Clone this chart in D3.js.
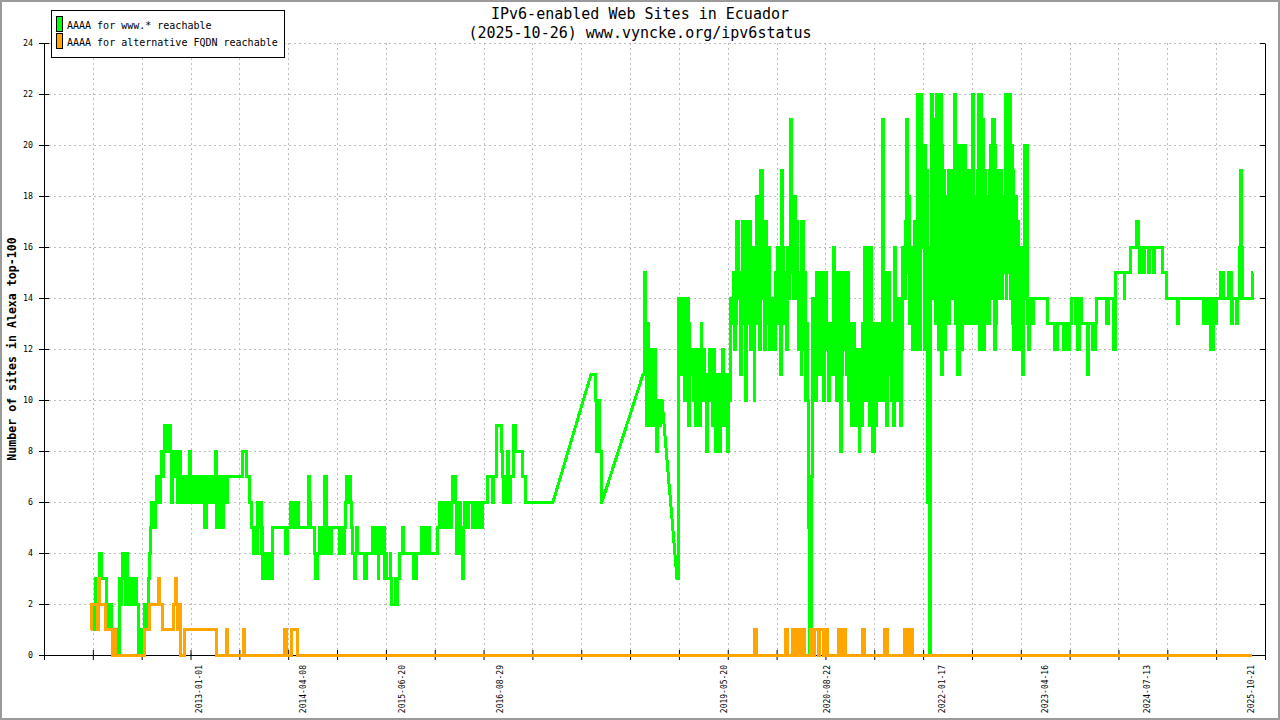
<!DOCTYPE html>
<html>
<head>
<meta charset="utf-8">
<title>IPv6-enabled Web Sites in Ecuador</title>
<script src="https://cdn.jsdelivr.net/npm/d3@7/dist/d3.min.js"></script>
<style>
    body { margin: 0; background: #fff; }
    #chart { width: 1280px; height: 720px; }
    .mono { font-family: "DejaVu Sans Mono", monospace; }
</style>
</head>
<body>
<div id="chart"></div>
<script>

// ---- data (x = decimal year, y = number of sites) ----

const TITLE_LINES = ["IPv6-enabled Web Sites in Ecuador", "(2025-10-26) www.vyncke.org/ipv6status"];
const Y_TITLE = "Number of sites in Alexa top-100";
const LEGEND_LABELS = ["AAAA for www.* reachable", "AAAA for alternative FQDN reachable"];

const Y_TICKS = [0, 2, 4, 6, 8, 10, 12, 14, 16, 18, 20, 22, 24];
const X_LABEL_DATES = ["2013-01-01", "2014-04-08", "2015-06-20", "2016-08-29", "2019-05-20",
                       "2020-08-22", "2022-01-17", "2023-04-16", "2024-07-13", "2025-10-21"];

// www.* series, split where records are missing (gnuplot joins those with a straight line)
const wwwRun1 = [
    [2011.723,1],[2011.735,2],[2011.759,1],[2011.771,2],[2011.783,3],[2011.832,4],[2011.856,3],[2011.917,2],
    [2011.929,1],[2011.941,2],[2011.954,1],[2011.966,2],[2011.978,1],[2011.990,0],[2012.014,1],[2012.026,0],
    [2012.051,1],[2012.063,0],[2012.075,3],[2012.087,2],[2012.099,3],[2012.111,4],[2012.136,3],[2012.148,2],
    [2012.160,4],[2012.172,3],[2012.184,2],[2012.197,3],[2012.209,2],[2012.221,3],[2012.233,2],[2012.245,3],
    [2012.258,2],[2012.270,3],[2012.282,2],[2012.306,0],[2012.331,1],[2012.343,0],[2012.355,1],[2012.380,2],
    [2012.404,1],[2012.428,3],[2012.440,4],[2012.453,5],[2012.465,6],[2012.477,5],[2012.489,6],[2012.501,5],
    [2012.514,6],[2012.526,7],[2012.538,6],[2012.550,7],[2012.562,6],[2012.574,7],[2012.587,8],[2012.599,7],
    [2012.611,8],[2012.623,9],[2012.635,8],[2012.648,9],[2012.660,8],[2012.672,9],[2012.696,8],[2012.708,6],
    [2012.720,8],[2012.733,7],[2012.745,8],[2012.757,7],[2012.769,8],[2012.781,6],[2012.794,7],[2012.806,8],
    [2012.818,7],[2012.842,6],[2012.854,7],[2012.867,6],[2012.879,7],[2012.891,6],[2012.903,7],[2012.915,6],
    [2012.927,8],[2012.940,7],[2012.952,6],[2012.964,7],[2012.976,6],[2012.988,7],[2013.013,6],[2013.025,7],
    [2013.049,6],[2013.061,7],[2013.086,6],[2013.098,7],[2013.110,5],[2013.134,7],[2013.146,6],[2013.159,7],
    [2013.171,6],[2013.183,7],[2013.207,6],[2013.219,7],[2013.244,8],[2013.256,5],[2013.280,7],[2013.292,6],
    [2013.305,7],[2013.317,5],[2013.341,7],[2013.353,6],[2013.366,7],[2013.378,6],[2013.390,7],[2013.572,8],
    [2013.621,7],[2013.658,6],[2013.682,5],[2013.695,4],[2013.707,5],[2013.719,4],[2013.731,5],[2013.743,4],
    [2013.755,6],[2013.768,5],[2013.780,6],[2013.792,4],[2013.804,5],[2013.816,3],[2013.841,4],[2013.853,3],
    [2013.865,4],[2013.877,3],[2013.889,4],[2013.902,3],[2013.914,4],[2013.926,3],[2013.938,5],[2014.096,4],
    [2014.120,5],[2014.145,6],[2014.157,5],[2014.169,6],[2014.181,5],[2014.193,6],[2014.206,5],[2014.218,6],
    [2014.230,5],[2014.242,6],[2014.254,5],[2014.364,7],[2014.388,6],[2014.400,5],[2014.449,4],[2014.461,3],
    [2014.485,4],[2014.510,5],[2014.546,4],[2014.570,7],[2014.595,5],[2014.607,4],[2014.619,5],[2014.643,4],
    [2014.656,5],[2014.753,4],[2014.777,5],[2014.790,4],[2014.814,5],[2014.826,6],[2014.838,7],[2014.850,6],
    [2014.863,7],[2014.887,6],[2014.899,5],[2014.911,4],[2014.924,3],[2014.948,4],[2014.960,5],[2014.972,4],
    [2015.057,3],[2015.070,4],[2015.143,5],[2015.155,4],[2015.167,5],[2015.179,4],[2015.191,5],[2015.204,4],
    [2015.216,3],[2015.228,4],[2015.240,5],[2015.252,4],[2015.264,5],[2015.277,4],[2015.289,5],[2015.301,3],
    [2015.313,4],[2015.325,3],[2015.362,4],[2015.374,3],[2015.386,2],[2015.423,3],[2015.447,2],[2015.459,3],
    [2015.483,4],[2015.520,5],[2015.532,4],[2015.642,3],[2015.690,4],[2015.751,5],[2015.763,4],[2015.775,5],
    [2015.788,4],[2015.800,5],[2015.812,4],[2015.824,5],[2015.848,4],[2015.946,5],[2015.970,6],[2015.982,5],
    [2015.994,6],[2016.007,5],[2016.019,6],[2016.031,5],[2016.043,6],[2016.055,5],[2016.067,6],[2016.080,5],
    [2016.092,6],[2016.104,5],[2016.116,6],[2016.128,7],[2016.165,6],[2016.177,4],[2016.189,5],[2016.201,4],
    [2016.213,6],[2016.226,5],[2016.238,4],[2016.250,3],[2016.262,5],[2016.274,6],[2016.286,5],[2016.299,6],
    [2016.311,5],[2016.323,6],[2016.372,5],[2016.384,6],[2016.396,5],[2016.420,6],[2016.433,5],[2016.445,6],
    [2016.457,5],[2016.469,6],[2016.481,5],[2016.493,6],[2016.554,7],[2016.615,6],[2016.627,7],[2016.664,9],
    [2016.713,8],[2016.737,7],[2016.749,6],[2016.761,7],[2016.773,6],[2016.786,7],[2016.798,8],[2016.810,7],
    [2016.822,6],[2016.834,7],[2016.859,9],[2016.895,8],[2016.980,7],[2017.005,6],[2017.346,6]
];
const wwwRun2 = [
    [2017.808,11],[2017.869,10],[2017.881,8],[2017.893,10],[2017.906,8],[2017.930,6],[2017.942,6]
];
const wwwRun3 = [
    [2018.441,11],[2018.465,15],[2018.477,12],[2018.489,9],[2018.502,13],[2018.514,9],[2018.526,12],[2018.538,10],
    [2018.550,12],[2018.562,9],[2018.575,11],[2018.587,12],[2018.599,10],[2018.611,8],[2018.623,10],[2018.636,9],
    [2018.648,10],[2018.672,10]
];
const wwwRun4 = [
    [2018.855,3],[2018.867,10],[2018.879,14],[2018.891,11],[2018.904,13],[2018.916,14],[2018.928,12],[2018.940,14],
    [2018.952,10],[2018.964,14],[2018.989,9],[2019.001,13],[2019.013,12],[2019.025,11],[2019.038,12],[2019.050,10],
    [2019.062,12],[2019.074,9],[2019.086,11],[2019.098,9],[2019.111,12],[2019.123,9],[2019.135,11],[2019.147,13],
    [2019.159,10],[2019.172,12],[2019.184,10],[2019.196,11],[2019.208,8],[2019.220,11],[2019.233,10],[2019.245,12],
    [2019.257,10],[2019.269,11],[2019.281,9],[2019.293,12],[2019.306,10],[2019.318,8],[2019.330,11],[2019.342,9],
    [2019.354,11],[2019.366,8],[2019.379,11],[2019.391,9],[2019.403,12],[2019.415,10],[2019.427,11],[2019.439,9],
    [2019.452,11],[2019.464,8],[2019.476,11],[2019.488,10],[2019.500,12],[2019.512,14],[2019.525,13],[2019.537,15],
    [2019.549,12],[2019.561,14],[2019.573,13],[2019.585,17],[2019.598,14],[2019.610,15],[2019.622,11],[2019.634,15],
    [2019.646,17],[2019.658,13],[2019.671,17],[2019.683,10],[2019.695,15],[2019.707,13],[2019.719,16],[2019.731,17],
    [2019.744,12],[2019.756,15],[2019.768,13],[2019.780,16],[2019.792,10],[2019.804,14],[2019.817,18],[2019.829,13],
    [2019.841,15],[2019.853,12],[2019.865,17],[2019.877,19],[2019.890,14],[2019.902,17],[2019.914,12],[2019.926,15],
    [2019.938,17],[2019.950,13],[2019.963,16],[2019.975,12],[2019.987,14],[2019.999,13],[2020.011,12],[2020.023,14],
    [2020.036,12],[2020.048,15],[2020.060,13],[2020.072,16],[2020.084,14],[2020.097,16],[2020.109,11],[2020.121,19],
    [2020.133,14],[2020.145,16],[2020.157,13],[2020.170,15],[2020.182,12],[2020.194,16],[2020.206,14],[2020.218,16],
    [2020.231,21],[2020.243,15],[2020.255,18],[2020.267,14],[2020.279,18],[2020.291,15],[2020.304,17],[2020.316,14],
    [2020.328,12],[2020.340,15],[2020.352,14],[2020.364,11],[2020.376,17],[2020.389,12],[2020.401,15],[2020.413,10],
    [2020.425,13],[2020.437,10],[2020.450,5],[2020.462,0],[2020.486,7],[2020.498,14],[2020.511,11],[2020.523,13],
    [2020.535,10],[2020.547,15],[2020.559,11],[2020.571,13],[2020.584,12],[2020.596,15],[2020.608,11],[2020.620,14],
    [2020.632,10],[2020.644,15],[2020.669,12],[2020.681,13],[2020.693,10],[2020.705,12],[2020.717,11],[2020.730,13],
    [2020.742,12],[2020.754,16],[2020.766,11],[2020.778,13],[2020.790,10],[2020.803,15],[2020.815,12],[2020.827,15],
    [2020.839,8],[2020.851,15],[2020.863,11],[2020.875,15],[2020.888,12],[2020.900,15],[2020.912,11],[2020.924,15],
    [2020.936,12],[2020.948,10],[2020.961,13],[2020.973,9],[2020.985,12],[2020.997,10],[2021.009,13],[2021.021,9],
    [2021.034,12],[2021.046,10],[2021.058,12],[2021.070,8],[2021.082,11],[2021.094,9],[2021.107,13],[2021.119,10],
    [2021.131,16],[2021.143,12],[2021.155,16],[2021.167,10],[2021.180,16],[2021.192,9],[2021.204,16],[2021.216,11],
    [2021.228,9],[2021.240,8],[2021.253,13],[2021.265,9],[2021.277,13],[2021.289,12],[2021.301,13],[2021.313,10],
    [2021.326,13],[2021.338,12],[2021.350,21],[2021.362,15],[2021.374,10],[2021.386,15],[2021.399,9],[2021.411,14],
    [2021.423,11],[2021.435,15],[2021.447,13],[2021.460,10],[2021.472,13],[2021.484,9],[2021.496,16],[2021.508,12],
    [2021.520,13],[2021.532,10],[2021.545,14],[2021.557,11],[2021.569,9],[2021.581,14],[2021.593,12],[2021.605,16],
    [2021.618,14],[2021.630,17],[2021.642,15],[2021.654,21],[2021.666,16],[2021.678,18],[2021.690,13],[2021.703,15],
    [2021.715,12],[2021.727,16],[2021.739,15],[2021.751,17],[2021.763,12],[2021.776,22],[2021.788,17],[2021.800,20],
    [2021.812,12],[2021.824,22],[2021.836,16],[2021.849,18],[2021.861,12],[2021.873,20],[2021.885,16],[2021.897,19],
    [2021.909,6],[2021.922,0],[2021.946,16],[2021.958,22],[2021.970,14],[2021.982,21],[2021.995,13],[2022.007,22],
    [2022.019,14],[2022.031,20],[2022.043,12],[2022.055,22],[2022.068,11],[2022.080,20],[2022.092,13],[2022.104,19],
    [2022.116,12],[2022.128,18],[2022.141,14],[2022.153,19],[2022.165,13],[2022.177,17],[2022.189,15],[2022.201,19],
    [2022.213,14],[2022.226,18],[2022.238,22],[2022.250,13],[2022.262,20],[2022.274,11],[2022.287,20],[2022.299,14],
    [2022.311,20],[2022.323,12],[2022.335,19],[2022.347,13],[2022.359,20],[2022.372,14],[2022.384,19],[2022.396,13],
    [2022.408,18],[2022.420,14],[2022.432,19],[2022.445,13],[2022.457,22],[2022.469,15],[2022.481,18],[2022.493,13],
    [2022.506,19],[2022.518,14],[2022.530,22],[2022.542,12],[2022.554,22],[2022.566,14],[2022.578,21],[2022.591,12],
    [2022.603,19],[2022.615,14],[2022.627,18],[2022.639,13],[2022.652,19],[2022.664,15],[2022.676,20],[2022.688,14],
    [2022.700,21],[2022.713,12],[2022.725,20],[2022.737,13],[2022.749,19],[2022.761,14],[2022.773,18],[2022.786,15],
    [2022.798,19],[2022.810,14],[2022.822,18],[2022.834,15],[2022.847,22],[2022.859,14],[2022.871,21],[2022.883,15],
    [2022.895,22],[2022.908,14],[2022.920,20],[2022.932,13],[2022.944,19],[2022.956,12],[2022.969,18],[2022.981,12],
    [2022.993,17],[2023.005,13],[2023.017,16],[2023.030,12],[2023.042,16],[2023.054,11],[2023.066,14],[2023.090,20],
    [2023.115,13],[2023.127,12],[2023.139,14],[2023.151,13],[2023.188,14],[2023.358,13],[2023.455,12],[2023.480,13],
    [2023.553,12],[2023.577,13],[2023.602,12],[2023.626,13],[2023.650,14],[2023.699,13],[2023.711,14],[2023.723,12],
    [2023.748,13],[2023.760,14],[2023.772,13],[2023.845,11],[2023.869,13],[2023.906,12],[2023.918,13],[2023.942,12],
    [2023.954,13],[2023.966,14],[2024.088,13],[2024.112,14],[2024.173,12],[2024.197,15],[2024.295,14],[2024.307,15],
    [2024.380,16],[2024.453,17],[2024.477,16],[2024.489,15],[2024.501,16],[2024.538,15],[2024.550,16],[2024.599,15],
    [2024.611,16],[2024.660,15],[2024.672,16],[2024.769,15],[2024.818,14],[2024.952,13],[2024.964,14],[2025.257,13],
    [2025.269,14],[2025.281,13],[2025.293,14],[2025.306,13],[2025.318,14],[2025.330,13],[2025.342,12],[2025.354,14],
    [2025.366,12],[2025.379,14],[2025.403,13],[2025.415,14],[2025.464,15],[2025.500,14],[2025.561,15],[2025.598,13],
    [2025.610,14],[2025.659,13],[2025.671,14],[2025.695,16],[2025.708,19],[2025.720,16],[2025.732,14],[2025.854,15],
    [2025.866,15]
];

// alternative FQDN series
const altFqdn = [
    [2011.723,1],[2011.735,2],[2011.808,1],[2011.820,3],[2011.832,2],[2011.905,1],[2011.990,0],[2012.002,1],
    [2012.026,0],[2012.380,1],[2012.440,2],[2012.550,3],[2012.562,2],[2012.599,1],[2012.721,2],[2012.757,3],
    [2012.769,2],[2012.781,1],[2012.794,2],[2012.818,0],[2012.867,1],[2013.256,0],[2013.378,1],[2013.390,0],
    [2013.585,1],[2013.597,0],[2014.072,1],[2014.108,0],[2014.169,1],[2014.242,0],[2019.792,1],[2019.817,0],
    [2020.170,1],[2020.194,0],[2020.255,1],[2020.279,0],[2020.304,1],[2020.316,0],[2020.340,1],[2020.364,0],
    [2020.376,1],[2020.401,0],[2020.474,1],[2020.511,0],[2020.523,1],[2020.571,0],[2020.584,1],[2020.632,0],
    [2020.644,1],[2020.681,0],[2020.815,1],[2020.839,0],[2020.875,1],[2020.900,0],[2021.107,1],[2021.131,0],
    [2021.386,1],[2021.411,0],[2021.618,1],[2021.642,0],[2021.690,1],[2021.715,0],[2025.854,0]
];

// ---- layout ----
const WIDTH = 1280;
const HEIGHT = 720;
const PLOT_LEFT = 44;
const PLOT_RIGHT = 1265;
const PLOT_TOP = 43;
const PLOT_BOTTOM = 655;
const X_MIN = 2011.151;
const X_MAX = 2026.011;
const X_TICK_STEPS = 25;
const GREEN = "#00ff00";
const ORANGE = "#ffa500";
const GRID = "#bdbdbd";

// date string -> decimal year
function toYear(s) {
    let d = new Date(s + "T00:00:00Z");
    let y = d.getUTCFullYear();
    let start = Date.UTC(y, 0, 1);
    let end = Date.UTC(y + 1, 0, 1);
    return y + (d.getTime() - start) / (end - start);
}

// runs are step data; consecutive runs get joined by a straight segment
function stepPoints(runs) {
    let pts = [];
    runs.forEach((run) => {
        run.forEach((d, i) => {
            pts.push(d);
            if (i < run.length - 1) pts.push([run[i + 1][0], d[1]]);
        });
    });
    return pts;
}

let xScale = d3.scaleLinear()
               .domain([X_MIN, X_MAX])
               .range([PLOT_LEFT, PLOT_RIGHT]);
let yScale = d3.scaleLinear()
               .domain([0, 24])
               .range([PLOT_BOTTOM, PLOT_TOP]);

let xTicks = d3.range(0, X_TICK_STEPS + 1).map((k) => X_MIN + k * (X_MAX - X_MIN) / X_TICK_STEPS);

let svg = d3.select("#chart")
            .append("svg")
            .attr("width", WIDTH)
            .attr("height", HEIGHT)
            .attr("viewBox", "0 0 " + WIDTH + " " + HEIGHT);

// outer frame
svg.append("rect")
   .attr("x", 1).attr("y", 1)
   .attr("width", WIDTH - 2).attr("height", HEIGHT - 2)
   .attr("fill", "#fff")
   .attr("stroke", "#9a9a9a")
   .attr("stroke-width", 2);

// grid
svg.append("g")
   .selectAll("line")
   .data(Y_TICKS.filter((d) => d > 0))
   .enter()
   .append("line")
   .attr("x1", PLOT_LEFT).attr("x2", PLOT_RIGHT)
   .attr("y1", (d) => Math.round(yScale(d)) + 0.5)
   .attr("y2", (d) => Math.round(yScale(d)) + 0.5)
   .attr("stroke", GRID)
   .attr("stroke-dasharray", "2,3");

svg.append("g")
   .selectAll("line")
   .data(xTicks.slice(1, -1))
   .enter()
   .append("line")
   .attr("x1", (d) => Math.round(xScale(d)) + 0.5)
   .attr("x2", (d) => Math.round(xScale(d)) + 0.5)
   .attr("y1", PLOT_TOP).attr("y2", PLOT_BOTTOM)
   .attr("stroke", GRID)
   .attr("stroke-dasharray", "2,3");

// axes: ticks cross the border on both sides
let yAxisOut = d3.axisLeft(yScale).tickValues(Y_TICKS).tickSizeInner(5).tickSizeOuter(0).tickPadding(6);
let yAxisIn = d3.axisRight(yScale).tickValues(Y_TICKS).tickSizeInner(5).tickSizeOuter(0).tickFormat("");
let yAxisRight = d3.axisLeft(yScale).tickValues(Y_TICKS).tickSizeInner(5).tickSizeOuter(0).tickFormat("");
let xAxisOut = d3.axisBottom(xScale).tickValues(xTicks).tickSizeInner(5).tickSizeOuter(0).tickFormat("");
let xAxisIn = d3.axisTop(xScale).tickValues(xTicks).tickSizeInner(5).tickSizeOuter(0).tickFormat("");

svg.append("g").attr("transform", "translate(" + PLOT_LEFT + ",0)").call(yAxisOut)
   .call((g) => g.selectAll("text").attr("class", "mono").attr("font-size", 8.3).attr("fill", "#000"));
svg.append("g").attr("transform", "translate(" + PLOT_LEFT + ",0)").call(yAxisIn);
svg.append("g").attr("transform", "translate(" + PLOT_RIGHT + ",0)").call(yAxisRight);
svg.append("g").attr("transform", "translate(0," + PLOT_BOTTOM + ")").call(xAxisOut);
svg.append("g").attr("transform", "translate(0," + PLOT_BOTTOM + ")").call(xAxisIn);

// rotated date labels
svg.append("g")
   .selectAll("text")
   .data(X_LABEL_DATES)
   .enter()
   .append("text")
   .attr("class", "mono")
   .attr("font-size", 8)
   .attr("text-anchor", "end")
   .attr("dy", "0.35em")
   .attr("transform", (d) => "translate(" + (xScale(toYear(d)) + 3.5) + "," + (PLOT_BOTTOM + 10) + ") rotate(-90)")
   .text((d) => d);

// series
let line = d3.line()
             .x((d) => xScale(d[0]))
             .y((d) => yScale(d[1]))
             .curve(d3.curveLinear);

svg.append("path")
   .datum(stepPoints([wwwRun1, wwwRun2, wwwRun3, wwwRun4]))
   .attr("d", line)
   .attr("fill", "none")
   .attr("stroke", GREEN)
   .attr("stroke-width", 3)
   .attr("stroke-linejoin", "miter")
   .attr("shape-rendering", "crispEdges");

svg.append("path")
   .datum(stepPoints([altFqdn]))
   .attr("d", line)
   .attr("fill", "none")
   .attr("stroke", ORANGE)
   .attr("stroke-width", 3)
   .attr("stroke-linejoin", "miter")
   .attr("shape-rendering", "crispEdges");

// titles
svg.append("g")
   .selectAll("text")
   .data(TITLE_LINES)
   .enter()
   .append("text")
   .attr("class", "mono")
   .attr("font-size", 15)
   .attr("text-anchor", "middle")
   .attr("x", WIDTH / 2)
   .attr("y", (d, i) => 19 + i * 18.5)
   .text((d) => d);

svg.append("text")
   .attr("class", "mono")
   .attr("font-size", 11.6)
   .attr("font-weight", "bold")
   .attr("text-anchor", "middle")
   .attr("transform", "translate(16," + ((PLOT_TOP + PLOT_BOTTOM) / 2) + ") rotate(-90)")
   .text(Y_TITLE);

// legend
let legend = svg.append("g");
legend.append("rect")
      .attr("x", 51.5).attr("y", 10.5)
      .attr("width", 233).attr("height", 47)
      .attr("fill", "#fff")
      .attr("stroke", "#000");
legend.selectAll(".swatch")
      .data([GREEN, ORANGE])
      .enter()
      .append("rect")
      .attr("class", "swatch")
      .attr("x", 56.5)
      .attr("y", (d, i) => 16.5 + i * 17)
      .attr("width", 6)
      .attr("height", 15)
      .attr("fill", (d) => d)
      .attr("stroke", "#000");
legend.selectAll(".label")
      .data(LEGEND_LABELS)
      .enter()
      .append("text")
      .attr("class", "mono label")
      .attr("font-size", 10)
      .attr("x", 67)
      .attr("y", (d, i) => 29 + i * 17)
      .text((d) => d);

</script>
</body>
</html>
